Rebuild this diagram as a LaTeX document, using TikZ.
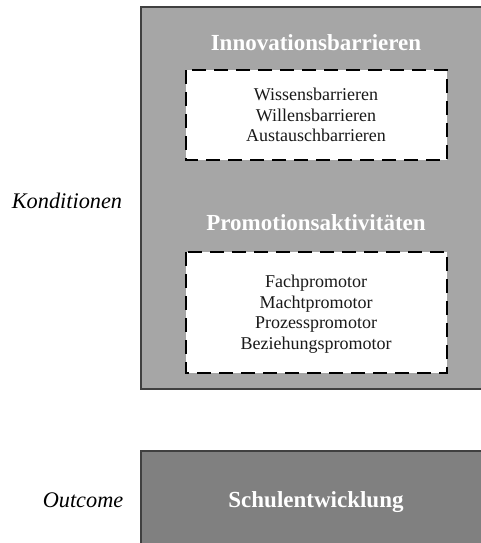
\documentclass[tikz,border=0pt]{standalone}
\usepackage{fontspec}
\setmainfont{Liberation Serif}
\begin{document}
\begin{tikzpicture}[x=1pt,y=-1pt,
  panel/.style={draw=black!75, line width=1.2pt},
  dashbox/.style={draw=black, fill=white, line width=2.8pt, dash pattern=on 14pt off 8pt},
  heading/.style={font=\fontsize{23}{27}\selectfont\bfseries, text=white},
  items/.style={font=\fontsize{18}{20.5}\selectfont, align=center, text=black!90},
  sidelabel/.style={font=\fontsize{22.3}{26}\selectfont\itshape}]
  \useasboundingbox (0,0) rectangle (481,543);
  \clip (0,0) rectangle (481,543);
  % upper panel: conditions
  \path[panel, fill=black!35] (141,7) rectangle (495,389);
  % lower panel: outcome
  \path[panel, fill=black!50] (141,451) rectangle (495,560);
  % barrier group
  \node[heading] (hb) at (316,43) {Innovationsbarrieren};
  \path[dashbox] (186,70) rectangle (447,160);
  \node[items] (ib) at (316,115) {Wissensbarrieren\\Willensbarrieren\\Austauschbarrieren};
  % promotor group
  \node[heading] (hp) at (316,223) {Promotionsaktivitäten};
  \path[dashbox] (186,252) rectangle (447,373);
  \node[items] (ip) at (316,314) {Fachpromotor\\Machtpromotor\\Prozesspromotor\\Beziehungspromotor};
  % outcome
  \node[heading] (ho) at (316,502) {Schulentwicklung};
  % side labels
  \node[sidelabel] (lk) at (67,201) {Konditionen};
  \node[sidelabel] (lo) at (83,500) {Outcome};
\end{tikzpicture}
\end{document}
